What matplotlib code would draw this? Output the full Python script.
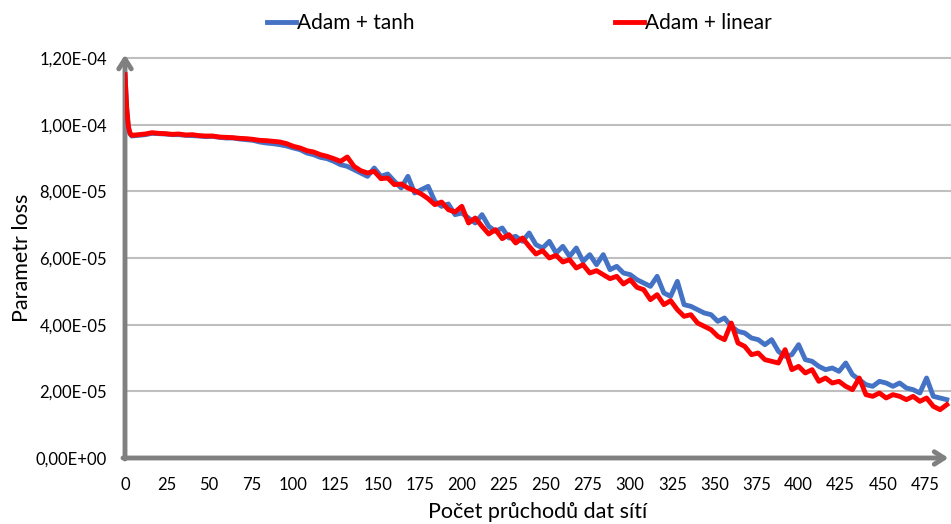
import numpy as np
import matplotlib.pyplot as plt
from matplotlib.ticker import FuncFormatter

plt.rcParams['font.family'] = ['Lato', 'DejaVu Sans']

# epochs (categories on the x axis)
epochs = np.concatenate([[0, 1, 2, 3], np.arange(4, 492, 4)])

# loss values in units of 1e-5
loss_linear = [
    11.5, 10.5, 9.95, 9.74,
    9.68, 9.70, 9.72, 9.76, 9.74, 9.73, 9.71, 9.72, 9.69, 9.70,
    9.67, 9.66, 9.66, 9.63, 9.62, 9.61, 9.59, 9.58, 9.56, 9.53,
    9.52, 9.50, 9.48, 9.43, 9.35, 9.30, 9.22, 9.18, 9.10, 9.05,
    8.98, 8.90, 9.03, 8.75, 8.62, 8.55, 8.60, 8.38, 8.40, 8.20,
    8.22, 8.10, 8.02, 7.92, 7.78, 7.60, 7.68, 7.45, 7.38, 7.55,
    7.05, 7.20, 6.95, 6.72, 6.85, 6.58, 6.70, 6.45, 6.60, 6.35,
    6.12, 6.22, 6.00, 6.08, 5.88, 5.95, 5.70, 5.80, 5.55, 5.62,
    5.50, 5.38, 5.45, 5.22, 5.35, 5.12, 5.05, 4.75, 4.90, 4.60,
    4.72, 4.45, 4.25, 4.30, 4.05, 3.95, 3.85, 3.65, 3.55, 4.05,
    3.45, 3.35, 3.10, 3.15, 2.95, 2.90, 2.85, 3.25, 2.65, 2.75,
    2.55, 2.65, 2.30, 2.40, 2.25, 2.30, 2.15, 2.05, 2.40, 1.90,
    1.85, 1.95, 1.80, 1.90, 1.85, 1.75, 1.85, 1.70, 1.80, 1.55,
    1.45, 1.60,
]
loss_tanh = [
    11.5, 10.5, 9.90, 9.72,
    9.66, 9.68, 9.70, 9.74, 9.73, 9.72, 9.70, 9.70, 9.68, 9.67,
    9.66, 9.64, 9.65, 9.62, 9.60, 9.60, 9.57, 9.55, 9.53, 9.48,
    9.45, 9.43, 9.40, 9.36, 9.30, 9.25, 9.15, 9.10, 9.02, 8.98,
    8.90, 8.80, 8.75, 8.65, 8.55, 8.45, 8.70, 8.45, 8.52, 8.30,
    8.10, 8.45, 7.95, 8.05, 8.15, 7.70, 7.55, 7.62, 7.30, 7.35,
    7.20, 7.05, 7.30, 6.95, 6.80, 6.90, 6.60, 6.65, 6.50, 6.75,
    6.40, 6.30, 6.50, 6.15, 6.35, 6.05, 6.30, 5.90, 6.10, 5.80,
    6.10, 5.65, 5.75, 5.55, 5.50, 5.35, 5.25, 5.15, 5.45, 4.95,
    4.85, 5.30, 4.60, 4.55, 4.45, 4.35, 4.30, 4.10, 4.20, 3.95,
    3.80, 3.75, 3.60, 3.55, 3.40, 3.55, 3.20, 3.05, 3.10, 3.40,
    2.95, 2.90, 2.75, 2.65, 2.70, 2.60, 2.85, 2.50, 2.35, 2.20,
    2.15, 2.30, 2.25, 2.15, 2.25, 2.10, 2.05, 1.95, 2.40, 1.85,
    1.80, 1.75,
]

y_ticks = np.arange(0, 1.21e-4, 2e-5)
x_ticks = np.arange(0, 476, 25)

fig = plt.figure(figsize=(9.51, 5.24), dpi=100)
ax = fig.add_axes([125 / 951, 66 / 524, 826 / 951, 400 / 524])

ax.plot(epochs, np.array(loss_tanh) * 1e-5, color='#4472C4', lw=3.5, label='Adam + tanh',
        solid_joinstyle='round', zorder=3)
ax.plot(epochs, np.array(loss_linear) * 1e-5, color='#FF0000', lw=3.5, label='Adam + linear',
        solid_joinstyle='round', zorder=4)

ax.set_xlim(0, 490.5)
ax.set_ylim(0, 1.2e-4)
ax.set_yticks(y_ticks)
ax.set_xticks(x_ticks)
ax.yaxis.set_major_formatter(FuncFormatter(lambda v, p: ('%.2E' % v).replace('.', ',')))
ax.tick_params(length=0, labelsize=12, labelcolor='black')
ax.tick_params(axis='y', pad=13)
ax.tick_params(axis='x', pad=14)

for v in y_ticks[1:]:
    ax.axhline(v, color='#BFBFBF', lw=1.5, zorder=1, clip_on=False)
for s in ax.spines.values():
    s.set_visible(False)

# arrow axes
arrow = dict(arrowstyle='->,head_length=0.7,head_width=0.45', color='#808080', lw=3.5,
             shrinkA=0, shrinkB=0)
ax.annotate('', xy=(0, 1.21e-4), xytext=(0, -0.03e-5), arrowprops=arrow,
            annotation_clip=False, zorder=2)
ax.annotate('', xy=(489, 0), xytext=(-1.2, 0), arrowprops=arrow,
            annotation_clip=False, zorder=2)

ax.set_xlabel('Počet průchodů dat sítí', fontsize=15.5, labelpad=6)
ax.set_ylabel('Parametr loss', fontsize=15.5)
ax.yaxis.set_label_coords((32 - 125) / 826, 0.5)

fig.legend(loc='center', bbox_to_anchor=(0.546, 0.956), ncol=2, frameon=False,
           fontsize=15, handlelength=1.4, handletextpad=0.05, columnspacing=9.6)

fig.savefig('out.png', dpi=100)
